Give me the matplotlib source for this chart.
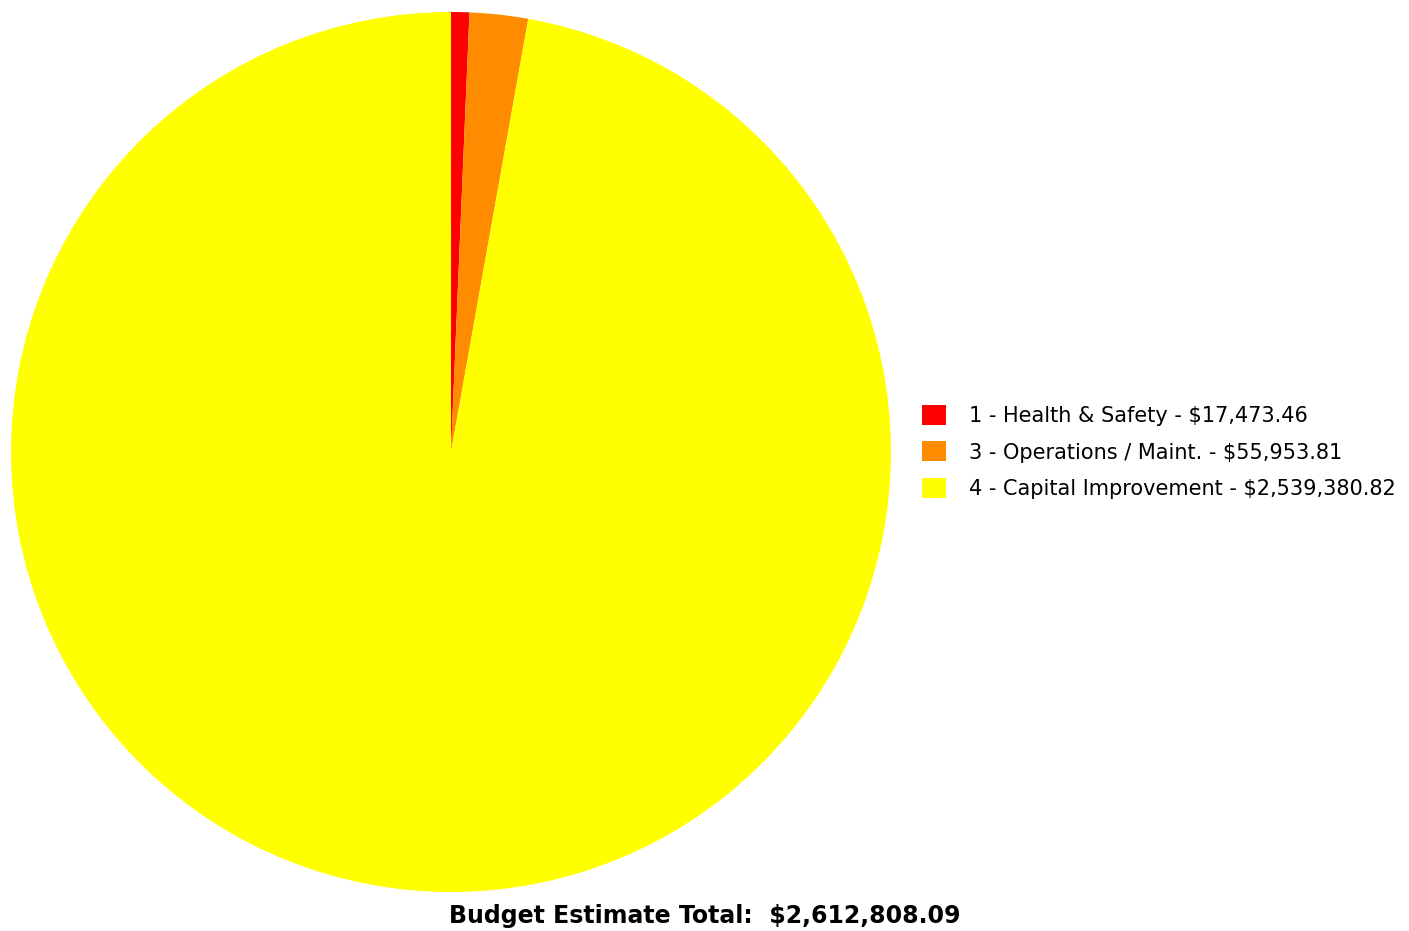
import matplotlib
matplotlib.use('Agg')
import matplotlib.pyplot as plt
from matplotlib.patches import Patch

labels = ['1 - Health & Safety', '3 - Operations / Maint.', '4 - Capital Improvement']
values = [17473.46, 55953.81, 2539380.82]
colors = ['#FF0000', '#FF8C00', '#FFFF00']
total = 2612808.09

W, H = 1409, 931
fig = plt.figure(figsize=(W / 100, H / 100), dpi=100)

ax = fig.add_axes([11 / W, (H - 892) / H, 880 / W, 880 / H])
ax.pie(values, colors=colors, startangle=90, counterclock=False,
       wedgeprops=dict(linewidth=0))
ax.set_xlim(-1, 1)
ax.set_ylim(-1, 1)
ax.set_aspect('equal')

handles = [Patch(facecolor=c, edgecolor='none') for c in colors]
legend_labels = ['%s - $%s' % (l, format(v, ',.2f')) for l, v in zip(labels, values)]
fig.legend(handles, legend_labels, loc='center left', bbox_to_anchor=(903 / W, 1 - 452 / H),
           frameon=False, fontsize=15, handlelength=1.15, handleheight=1.1,
           handletextpad=1.1, labelspacing=0.72)

fig.text(705 / W, 1 - 916 / H, 'Budget Estimate Total:  $%s' % format(total, ',.2f'),
         ha='center', va='center', fontsize=17, fontweight='bold')

fig.savefig('out.png', dpi=100)
